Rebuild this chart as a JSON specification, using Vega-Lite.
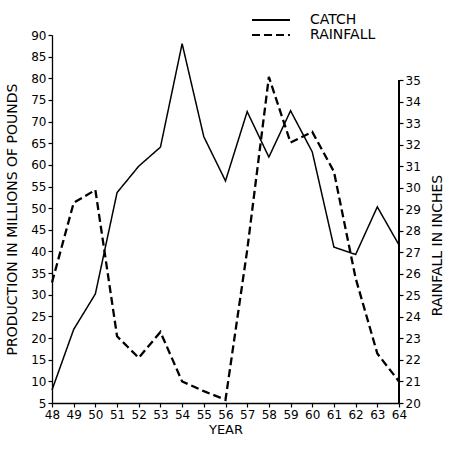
{
  "$schema": "https://vega.github.io/schema/vega-lite/v6.json",
  "width": 347,
  "height": 368,
  "autosize": {"type": "none"},
  "padding": {"left": 52, "top": 35, "right": 51, "bottom": 47},
  "background": "white",
  "config": {
    "view": {"stroke": null},
    "font": "DejaVu Sans",
    "axis": {"grid": false, "domainColor": "black", "tickColor": "black", "labelColor": "black", "titleColor": "black", "labelFont": "DejaVu Sans", "titleFont": "DejaVu Sans", "labelFontSize": 12, "titleFontWeight": "normal", "titleFontSize": 13, "tickSize": 4, "labelPadding": 2, "domainWidth": 1.3, "tickWidth": 1.2}
  },
  "data": {"values": [
    {"year": 48, "catch": 8.0, "rainfall": 25.6},
    {"year": 49, "catch": 22.0, "rainfall": 29.3},
    {"year": 50, "catch": 30.2, "rainfall": 29.9},
    {"year": 51, "catch": 53.6, "rainfall": 23.1},
    {"year": 52, "catch": 59.7, "rainfall": 22.1},
    {"year": 53, "catch": 64.1, "rainfall": 23.3},
    {"year": 54, "catch": 88.0, "rainfall": 21.0},
    {"year": 55, "catch": 66.5, "rainfall": 20.55},
    {"year": 56, "catch": 56.3, "rainfall": 20.15},
    {"year": 57, "catch": 72.3, "rainfall": 27.1},
    {"year": 58, "catch": 61.8, "rainfall": 35.15},
    {"year": 59, "catch": 72.5, "rainfall": 32.1},
    {"year": 60, "catch": 63.0, "rainfall": 32.6},
    {"year": 61, "catch": 41.0, "rainfall": 30.75},
    {"year": 62, "catch": 39.3, "rainfall": 25.8},
    {"year": 63, "catch": 50.3, "rainfall": 22.3},
    {"year": 64, "catch": 41.5, "rainfall": 21.0}
  ]},
  "encoding": {
    "x": {"field": "year", "type": "quantitative", "scale": {"domain": [48, 64], "nice": false, "zero": false},
      "axis": {"values": [48,49,50,51,52,53,54,55,56,57,58,59,60,61,62,63,64], "title": "YEAR", "titlePadding": 3, "labelFlush": false, "labelOverlap": false}}
  },
  "layer": [
    {
      "mark": {"type": "line", "color": "black", "strokeWidth": 1.5},
      "encoding": {
        "y": {"field": "catch", "type": "quantitative", "scale": {"domain": [5, 90], "nice": false, "zero": false},
          "axis": {"orient": "left", "labelOverlap": false, "values": [5,10,15,20,25,30,35,40,45,50,55,60,65,70,75,80,85,90], "title": "PRODUCTION IN MILLIONS OF POUNDS", "titleX": -40, "titleBaseline": "middle", "titleFontSize": 14}},
        "strokeDash": {"datum": "CATCH", "type": "nominal",
          "scale": {"domain": ["CATCH", "RAINFALL"], "range": [[1, 0], [8, 4]]},
          "legend": {"orient": "none", "legendX": 212, "legendY": -22, "title": null, "symbolType": "M-4,0H4", "symbolSize": 90, "symbolStrokeColor": "black", "symbolStrokeWidth": 2, "labelFontSize": 14, "labelFont": "DejaVu Sans", "labelColor": "black", "labelOffset": 32, "rowPadding": 1}}
      }
    },
    {
      "layer": [
        {
          "mark": {"type": "line", "color": "black", "strokeWidth": 2.3},
          "encoding": {
            "y": {"field": "rainfall", "type": "quantitative", "scale": {"domain": [20, 37.1], "nice": false, "zero": false},
              "axis": {"orient": "right", "domain": false, "labelOverlap": false, "values": [20,21,22,23,24,25,26,27,28,29,30,31,32,33,34,35], "title": "RAINFALL IN INCHES", "titleAngle": -90, "titleX": 38, "titleY": 210, "titleBaseline": "middle", "titleFontSize": 14}},
            "strokeDash": {"datum": "RAINFALL", "type": "nominal"}
          }
        },
        {
          "mark": {"type": "rule", "color": "black", "strokeWidth": 1.3},
          "encoding": {
            "x": {"datum": 64, "type": "quantitative"},
            "y": {"datum": 20, "type": "quantitative",
              "axis": {"orient": "right", "domain": false, "labelOverlap": false, "values": [20,21,22,23,24,25,26,27,28,29,30,31,32,33,34,35], "title": "RAINFALL IN INCHES", "titleAngle": -90, "titleX": 38, "titleY": 210, "titleBaseline": "middle", "titleFontSize": 14}},
            "y2": {"datum": 35}
          }
        }
      ]
    }
  ],
  "resolve": {"scale": {"y": "independent"}}
}
